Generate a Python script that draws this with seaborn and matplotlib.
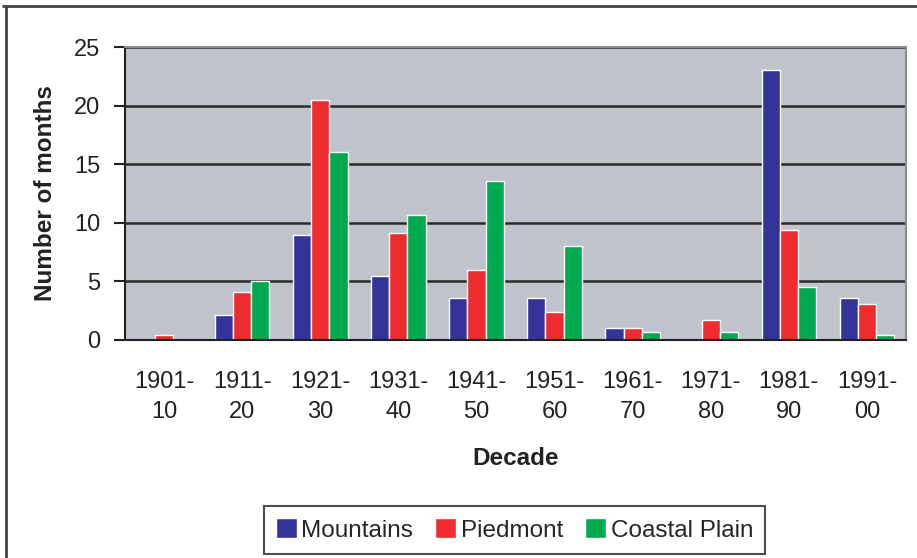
import matplotlib
matplotlib.use("Agg")
import matplotlib.pyplot as plt
from matplotlib.lines import Line2D
import pandas as pd
import seaborn as sns

decades = ["1901-\n10", "1911-\n20", "1921-\n30", "1931-\n40", "1941-\n50",
           "1951-\n60", "1961-\n70", "1971-\n80", "1981-\n90", "1991-\n00"]
regions = ["Mountains", "Piedmont", "Coastal Plain"]
mountains = [0, 2.1, 9.0, 5.5, 3.6, 3.6, 1.0, 0, 23.0, 3.6]
piedmont = [0.4, 4.1, 20.5, 9.1, 6.0, 2.4, 1.0, 1.7, 9.4, 3.1]
coastal = [0, 5.0, 16.0, 10.7, 13.6, 8.0, 0.7, 0.7, 4.5, 0.4]
colors = ["#333399", "#EE2B2E", "#00A850"]

df = pd.DataFrame({
    "Decade": decades * 3,
    "Region": [r for r in regions for _ in decades],
    "Months": mountains + piedmont + coastal,
})

sns.set_theme(style="white")
plt.rcParams["font.family"] = ["Liberation Sans", "DejaVu Sans"]

fig = plt.figure(figsize=(9.17, 5.58), dpi=100)
ax = fig.add_axes([125 / 917, 1 - 340 / 558, (906 - 125) / 917, (340 - 47) / 558])

sns.barplot(data=df, x="Decade", y="Months", hue="Region", palette=colors,
            width=0.7, saturation=1, gap=0, ax=ax)

ax.set_facecolor("#BFC3CB")
ax.set_ylim(0, 25)
ax.set_xlim(-0.5, len(decades) - 0.5)
ax.set_yticks(range(0, 26, 5))
ax.yaxis.grid(True, color="#2a2a2a", linewidth=1.8)
ax.set_axisbelow(True)

for side in ["top", "right"]:
    ax.spines[side].set_color("#8a8d93")
    ax.spines[side].set_linewidth(1.5)
for side in ["left", "bottom"]:
    ax.spines[side].set_color("#222222")
    ax.spines[side].set_linewidth(1.5)

ax.set_xticks([i - 0.5 for i in range(len(decades) + 1)], minor=True)
ax.tick_params(axis="x", which="minor", length=7, width=1.5, color="#222222", direction="out")
ax.tick_params(axis="x", which="major", length=0, pad=22, labelsize=17, labelcolor="#222222")
ax.tick_params(axis="y", length=8, width=1.5, color="#222222", direction="out",
               left=True, pad=10, labelsize=17, labelcolor="#222222")
for lbl in ax.get_xticklabels():
    lbl.set_linespacing(1.5)

ax.set_xlabel("Decade", fontsize=17.5, fontweight="bold", color="#222222", labelpad=17)
ax.set_ylabel("Number of months", fontsize=17.5, fontweight="bold", color="#222222", labelpad=12)

handles, labels = ax.get_legend_handles_labels()
ax.get_legend().remove()
leg = fig.legend(handles, labels, loc="center", bbox_to_anchor=(514.5 / 917, 1 - 530 / 558),
                 ncol=3, fontsize=17.5, frameon=True, fancybox=False, edgecolor="#222222",
                 handlelength=0.85, handleheight=0.85, handletextpad=0.2, columnspacing=0.9,
                 borderpad=0.5, borderaxespad=0)
leg.get_frame().set_linewidth(1.5)

fig.add_artist(Line2D([3 / 917, 1], [1 - 6 / 558, 1 - 6 / 558], transform=fig.transFigure,
                      color="#444444", linewidth=2))
fig.add_artist(Line2D([6 / 917, 6 / 917], [0, 1 - 6 / 558], transform=fig.transFigure,
                      color="#444444", linewidth=2))

fig.savefig("out.png", dpi=100)
